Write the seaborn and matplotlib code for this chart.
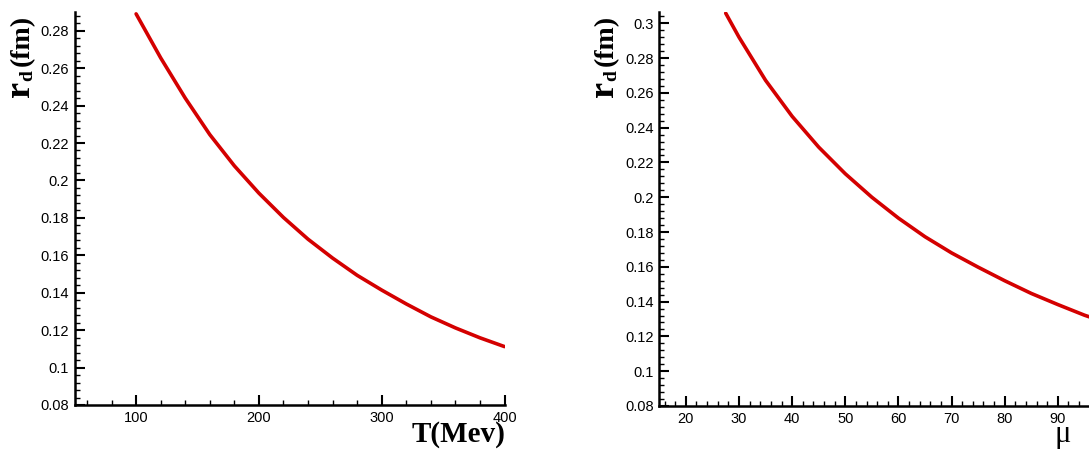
import numpy as np
import pandas as pd
import matplotlib
matplotlib.use("Agg")
import matplotlib.pyplot as plt
from matplotlib.ticker import MultipleLocator, FixedLocator, FuncFormatter
import seaborn as sns

# data
T_vals = [100, 120, 140, 160, 180, 200, 220, 240, 260, 280, 300, 320, 340, 360, 380, 400]
rd_T = [0.289, 0.2655, 0.2440, 0.2245, 0.2078, 0.1932, 0.1802, 0.1686, 0.1585,
        0.1493, 0.1414, 0.1340, 0.1271, 0.1212, 0.1159, 0.1112]

mu_vals = [27.5, 30, 35, 40, 45, 50, 55, 60, 65, 70, 75, 80, 85, 90, 95, 100]
rd_mu = [0.3058, 0.2920, 0.2672, 0.2465, 0.2288, 0.2135, 0.2000, 0.1880, 0.1773,
         0.1680, 0.1598, 0.1520, 0.1447, 0.1383, 0.1322, 0.1270]

T_ticks = [100, 200, 300, 400]
mu_ticks = [20, 30, 40, 50, 60, 70, 80, 90]

df_T = pd.DataFrame({"T": T_vals, "rd": rd_T})
df_mu = pd.DataFrame({"mu": mu_vals, "rd": rd_mu})

sns.set_style("ticks")
plt.rcParams["font.family"] = ["Liberation Sans", "DejaVu Sans"]
for k in ["text.color", "xtick.color", "ytick.color", "axes.edgecolor",
          "xtick.labelcolor", "ytick.labelcolor"]:
    plt.rcParams[k] = "black"

RED = "#d40000"
W, H = 1089, 450
fig = plt.figure(figsize=(W / 100, H / 100), dpi=100)
ax1 = fig.add_axes([0.0686, 0.1, 0.3947, 0.8733])
ax2 = fig.add_axes([0.6054, 0.0978, 0.4148, 0.8756])

sns.lineplot(data=df_T, x="T", y="rd", ax=ax1, color=RED, lw=2.6)
sns.lineplot(data=df_mu, x="mu", y="rd", ax=ax2, color=RED, lw=2.6)

fmt = FuncFormatter(lambda v, p: f"{v:g}")

def style(ax, xlim, ylim, xticks, xmin):
    ax.set_xlim(*xlim)
    ax.set_ylim(*ylim)
    ax.xaxis.set_major_locator(FixedLocator(xticks))
    ax.xaxis.set_minor_locator(MultipleLocator(xmin))
    ax.yaxis.set_major_locator(MultipleLocator(0.02))
    ax.yaxis.set_minor_locator(MultipleLocator(0.004))
    ax.yaxis.set_major_formatter(fmt)
    ax.xaxis.set_major_formatter(fmt)
    for s in ["top", "right"]:
        ax.spines[s].set_visible(False)
    for s in ["left", "bottom"]:
        ax.spines[s].set_linewidth(1.8)
        ax.spines[s].set_color("black")
    ax.tick_params(which="major", direction="in", length=7, width=1.5,
                   labelsize=10.5, pad=4, colors="black")
    ax.tick_params(which="minor", direction="in", length=3.5, width=1.0, colors="black")
    ax.set_xlabel("")
    ax.set_ylabel("")

style(ax1, (50, 400), (0.08, 0.29), T_ticks, 20)
style(ax2, (15, 100), (0.08, 0.3065), mu_ticks, 2)

serif = dict(family="Liberation Serif", fontweight="bold")

def rd_label(xb, ytop):
    # rotated y label drawn in pieces: big r, small subscript d, then (fm)
    kw = dict(rotation=90, rotation_mode="anchor", ha="left", va="baseline")
    fig.text(xb / W, 1 - ytop / H, "r", fontsize=26, **kw, **serif)
    fig.text((xb + 3) / W, 1 - (ytop - 16) / H, "d", fontsize=14, **kw, **serif)
    fig.text(xb / W, 1 - (ytop - 31) / H, "(fm)", fontsize=20, **kw, **serif)

rd_label(29, 97)
rd_label(613, 97)

fig.text(505 / W, 1 - 442 / H, "T(Mev)", ha="right", va="baseline",
         fontsize=21, **serif)
fig.text(1063 / W, 1 - 442 / H, "μ", ha="center", va="baseline",
         family="Liberation Serif", fontsize=22)

fig.savefig("out.png", dpi=100)
